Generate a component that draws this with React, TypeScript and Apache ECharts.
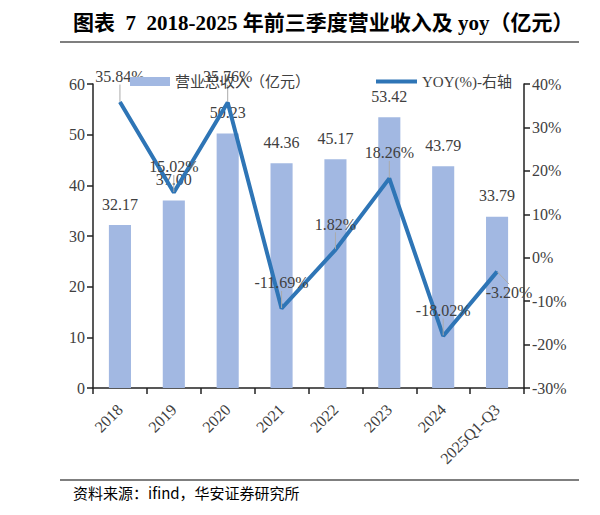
import { useEffect, useRef } from 'react';
import * as echarts from 'echarts';

const categories = ['2018', '2019', '2020', '2021', '2022', '2023', '2024', '2025Q1-Q3'];
const revenue = [32.17, 37.0, 50.23, 44.36, 45.17, 53.42, 43.79, 33.79];
const yoy = [35.84, 15.02, 35.76, -11.69, 1.82, 18.26, -18.02, -3.2];
const leftTicks = { min: 0, max: 60, interval: 10 };
const rightTicks = { min: -30, max: 40, interval: 10 };

const BAR = '#a2b8e2';
const LINE = '#2e75b6';
const TEXT = '#404040';
const SERIF = '"Liberation Serif", "Noto Sans CJK SC", serif';

export default function App() {
  const ref = useRef<HTMLDivElement | null>(null);

  useEffect(() => {
    if (!ref.current) return;
    const chart = echarts.init(ref.current, undefined, { renderer: 'svg' });

    chart.setOption({
      animation: false,
      backgroundColor: '#fff',
      grid: { left: 93, right: 76, top: 84, bottom: 127 },
      graphic: [
        {
          type: 'text',
          left: 73,
          top: 12,
          style: {
            text: '图表  7  2018-2025 年前三季度营业收入及 yoy（亿元）',
            font: `bold 21px ${SERIF}`,
            fill: '#000',
          },
        },
        {
          type: 'line',
          shape: { x1: 60, y1: 42, x2: 579, y2: 42 },
          style: { stroke: '#000', lineWidth: 1.2 },
        },
        {
          type: 'line',
          shape: { x1: 60, y1: 480, x2: 579, y2: 480 },
          style: { stroke: '#000', lineWidth: 1.2 },
        },
        {
          type: 'text',
          left: 73,
          top: 485,
          style: {
            text: '资料来源：ifind，华安证券研究所',
            font: '15px "Noto Sans CJK SC", sans-serif',
            fill: '#000',
          },
        },
      ],
      legend: [
        {
          data: ['营业总收入（亿元）'],
          left: 125,
          top: 69,
          itemWidth: 40,
          itemHeight: 9,
          icon: 'rect',
          textStyle: { color: TEXT, fontSize: 15, fontFamily: SERIF },
        },
        {
          data: ['YOY(%)-右轴'],
          left: 371,
          top: 69,
          itemWidth: 41,
          itemHeight: 4,
          icon: 'rect',
          textStyle: { color: TEXT, fontSize: 15, fontFamily: SERIF },
        },
      ],
      xAxis: {
        type: 'category',
        data: categories,
        axisLine: { lineStyle: { color: '#222', width: 1.5 } },
        axisTick: { show: true, length: 6, lineStyle: { color: '#222', width: 1.5 } },
        axisLabel: { color: TEXT, fontSize: 16, fontFamily: SERIF, rotate: 45, margin: 19, interval: 0 },
      },
      yAxis: [
        {
          type: 'value',
          ...leftTicks,
          splitLine: { show: false },
          axisLine: { show: true, lineStyle: { color: '#222', width: 1.5 } },
          axisTick: { show: true, length: 6, lineStyle: { color: '#222', width: 1.5 } },
          axisLabel: { color: TEXT, fontSize: 16, fontFamily: SERIF, margin: 8 },
        },
        {
          type: 'value',
          ...rightTicks,
          splitLine: { show: false },
          axisLine: { show: true, lineStyle: { color: '#222', width: 1.5 } },
          axisTick: { show: true, length: 6, lineStyle: { color: '#222', width: 1.5 } },
          axisLabel: { color: TEXT, fontSize: 16, fontFamily: SERIF, margin: 8, formatter: '{value}%' },
        },
      ],
      series: [
        {
          name: '营业总收入（亿元）',
          type: 'bar',
          data: revenue,
          barWidth: '41%',
          itemStyle: { color: BAR },
          label: {
            show: true,
            position: 'top',
            distance: 13,
            color: TEXT,
            fontSize: 16,
            fontFamily: SERIF,
            formatter: (p: any) => p.value.toFixed(2),
          },
        },
        {
          name: 'YOY(%)-右轴',
          type: 'line',
          yAxisIndex: 1,
          data: yoy,
          symbol: 'circle',
          symbolSize: 1,
          showSymbol: true,
          lineStyle: { color: LINE, width: 4 },
          itemStyle: { color: LINE },
          label: {
            show: true,
            position: 'top',
            distance: 17,
            color: TEXT,
            fontSize: 16,
            fontFamily: SERIF,
            formatter: (p: any) => p.value.toFixed(2) + '%',
          },
          labelLine: { show: true, lineStyle: { color: '#aaa', width: 1 } },
          labelLayout: (p: any) =>
            p.dataIndex === yoy.length - 1 ? { dx: 12, dy: 46 } : {},
        },
      ],
    });

    return () => chart.dispose();
  }, []);

  return (
    <div
      ref={ref}
      style={{ position: 'fixed', left: 0, top: 0, width: 600, height: 515 }}
    />
  );
}
